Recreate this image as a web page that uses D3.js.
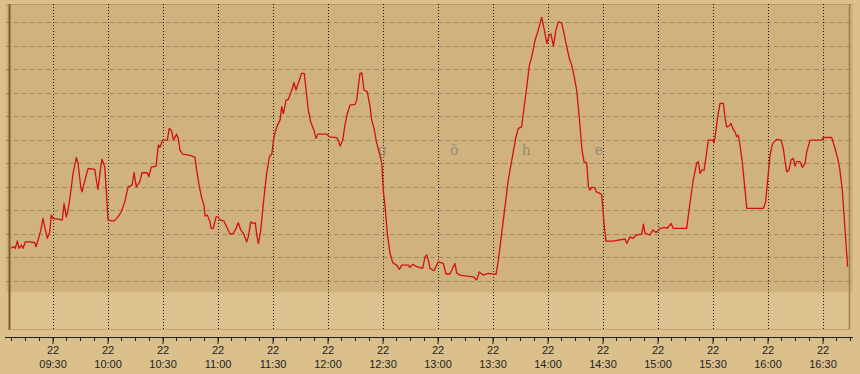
<!DOCTYPE html>
<html lang="en">
<head>
<meta charset="utf-8">
<script src="https://d3js.org/d3.v7.min.js"></script>
<style>
  *{margin:0;padding:0}
  body{width:860px;height:374px;background:#dbc08b;overflow:hidden}
  svg{display:block}
  .tick text{font-family:"Liberation Sans",Arial,sans-serif;font-size:11px;fill:#222}
</style>
</head>
<body>
<script>
// minutes after 09:00 on the 22nd, and the plotted value
const minutes=[7.4,9.0,9.7,10.8,11.7,13.0,13.9,15.2,17.6,20.3,21.0,22.1,23.6,24.8,26.1,27.2,28.5,29.3,30.3,33.0,35.3,36.3,37.5,38.5,39.7,41.2,43.0,43.9,45.4,46.1,48.4,49.4,53.0,53.9,54.8,56.3,57.0,58.5,59.3,60.3,63.5,65.7,67.5,69.4,71.2,73.4,74.5,75.7,77.6,78.8,81.7,82.5,83.9,
  84.7,86.5,87.7,88.6,90.1,92.6,93.7,95.0,95.9,97.7,98.6,99.5,101.0,105.0,107.7,108.6,110.1,111.4,112.6,113.2,114.4,115.9,116.5,117.7,119.2,120.4,121.4,123.5,125.0,126.8,128.6,130.1,131.3,132.7,134.1,135.9,136.8,138.1,139.5,140.6,141.4,142.3,143.6,145.0,146.8,148.3,149.6,150.8,152.3,154.1,155.0,155.9,157.4,158.6,160.5,
  161.7,162.8,164.1,165.9,167.3,168.3,169.5,170.8,172.6,173.7,174.7,179.6,181.0,185.0,185.9,186.8,188.3,189.5,190.8,192.3,195.0,195.9,197.7,198.7,199.9,201.7,203.2,204.1,205.4,206.5,207.4,208.6,209.6,210.4,211.4,212.6,214.1,215.6,217.7,219.2,220.5,224.1,225.0,226.5,228.7,231.9,233.2,234.1,235.0,235.9,238.1,
  240.4,243.2,244.6,246.8,248.6,249.5,250.5,252.3,255.9,259.5,261.4,262.8,265.0,267.7,271.9,273.2,275.0,276.8,278.6,281.0,282.8,284.1,285.9,286.8,288.7,290.1,291.4,293.2,295.0,296.8,298.3,299.6,301.0,301.9,303.2,304.6,305.9,307.7,309.0,310.5,311.9,313.2,314.5,
  315.9,317.3,318.7,319.9,321.4,322.3,323.2,324.1,325.9,326.5,328.6,329.6,330.1,331.0,331.9,335.9,338.6,342.3,343.2,345.0,346.8,348.3,351.4,352.3,353.2,355.9,357.4,359.2,361.4,364.1,365.3,367.4,368.6,375.9,377.7,379.5,381.4,382.3,383.2,384.1,385.4,386.5,387.7,390.1,390.8,
  391.4,392.8,394.1,395.9,396.8,397.7,399.0,400.1,401.3,402.3,403.2,404.1,405.0,406.3,407.3,408.7,417.7,419.0,420.1,421.4,422.8,425.0,427.4,428.6,429.5,430.5,431.7,432.8,434.1,435.0,435.9,437.7,439.0,440.5,441.4,443.2,449.6,450.4,455.0,456.8,458.3,459.5,460.8,462.3,463.7];
const values=[23.8,24.4,23.7,26.9,23.7,25.1,23.7,26.5,26.5,26.1,24.4,27.2,31.5,36.5,31.5,28.0,30.8,37.9,36.5,36.2,35.7,42.9,37.1,40.0,46.4,55.6,62.4,59.9,49.9,47.8,54.9,57.7,57.3,52.8,48.8,58.4,61.6,58.4,48.5,35.7,35.3,37.1,39.3,43.5,49.9,50.6,55.9,49.9,52.0,55.9,55.9,54.2,58.4,
  58.4,58.7,67.7,66.7,69.8,69.8,74.8,73.7,69.8,72.3,70.5,65.5,63.8,63.3,62.4,57.0,49.9,45.0,42.1,37.4,37.9,35.0,32.2,32.2,37.1,37.1,35.7,35.4,32.9,29.8,30.1,32.2,34.6,31.5,30.1,26.5,28.6,35.0,34.3,34.6,29.4,25.8,31.5,42.9,55.6,62.7,63.8,71.2,75.4,78.3,84.0,81.1,86.8,87.1,91.1,
  94.2,91.1,94.2,98.2,98.2,91.1,82.6,77.6,74.0,70.5,72.3,72.3,71.2,70.8,69.8,67.2,69.8,76.2,81.1,84.7,85.0,86.8,98.2,98.4,91.1,90.3,84.0,78.3,74.8,69.8,66.7,63.4,59.9,48.5,41.4,30.1,21.6,17.6,16.6,14.8,16.6,16.6,15.6,16.9,15.9,15.2,20.1,20.9,18.7,15.2,14.2,
  18.0,17.3,12.8,12.8,15.9,17.3,13.1,12.3,11.9,11.6,10.2,13.7,12.3,13.1,12.6,18.7,30.1,41.4,52.8,63.4,71.2,74.8,75.4,81.1,92.5,101.7,105.2,112.3,116.6,122.0,116.6,110.9,114.5,114.9,109.8,116.6,120.1,119.7,115.2,109.5,104.6,101.7,97.0,
  91.1,79.7,66.3,60.6,60.1,49.9,48.5,49.7,49.5,47.8,47.1,46.4,41.4,32.9,26.8,26.8,27.2,27.7,25.8,28.6,28.0,29.4,29.8,34.0,30.1,29.4,31.5,30.5,32.2,32.6,32.2,34.3,32.2,32.2,42.9,52.8,60.1,60.6,55.6,57.0,57.0,62.7,69.8,69.8,68.6,
  71.2,79.7,85.4,85.4,79.7,75.4,75.7,76.9,74.3,73.3,71.2,71.9,67.7,59.9,52.0,40.7,40.7,43.5,52.8,63.4,68.4,70.1,69.8,66.3,61.3,56.3,57.0,61.3,62.0,58.7,60.6,60.6,58.2,59.9,64.8,69.8,69.8,70.9,70.9,66.3,62.0,57.0,48.5,31.5,15.9];

const gridValues=[10,20,30,40,50,60,70,80,90,100,110,120];
const tickTimes=['09:30','10:00','10:30','11:00','11:30','12:00','12:30','13:00','13:30','14:00','14:30','15:00','15:30','16:00','16:30'];
const watermark=[{t:'g',m:209.8},{t:'ö',m:249.1},{t:'h',m:288.4},{t:'e',m:328.0}];
const bandTop=5;

const day=(m)=>new Date(2000,0,22,9,0,0,m*60000);
const parseT=(s)=>{const p=s.split(':');return day((+p[0]-9)*60+(+p[1]));};
const data=minutes.map((m,i)=>({t:day(m),v:values[i]})).filter(d=>d.v!=null);

const W=860,H=374,L=10,R=850,T=4,B=329;
const svg=d3.select('body').append('svg').attr('width',W).attr('height',H);

const x=d3.scaleTime().domain([day(6.8),day(465)]).range([L,R]);
const y=d3.scaleLinear().domain([-10.6,127.7]).range([B,T]);

svg.append('rect').attr('width',W).attr('height',H).attr('fill','#dbc08b');
svg.append('rect').attr('x',6).attr('y',T).attr('width',847).attr('height',y(bandTop)-T).attr('fill','#cfb27e');
svg.append('rect').attr('x',L).attr('y',y(bandTop)).attr('width',R-L).attr('height',B-y(bandTop)).attr('fill','#dcc28e');
svg.append('line').attr('x1',6).attr('x2',853).attr('y1',T+0.5).attr('y2',T+0.5).attr('stroke','#b89a62');

svg.append('g').selectAll('line').data(gridValues).enter().append('line')
   .attr('x1',6).attr('x2',854)
   .attr('y1',d=>Math.round(y(d))+0.5).attr('y2',d=>Math.round(y(d))+0.5)
   .attr('stroke','#a08a63').attr('stroke-dasharray','5,3');

const majors=tickTimes.map(parseT);
svg.append('g').selectAll('line').data(majors).enter().append('line')
   .attr('x1',d=>Math.round(x(d))+0.5).attr('x2',d=>Math.round(x(d))+0.5)
   .attr('y1',T).attr('y2',B+1)
   .attr('stroke','#1a1a1a').attr('stroke-dasharray','1,2');

svg.append('line').attr('x1',9.5).attr('x2',9.5).attr('y1',T).attr('y2',B+1).attr('stroke','#7d5c25').attr('stroke-width',2);
svg.append('line').attr('x1',849.5).attr('x2',849.5).attr('y1',T).attr('y2',B+1).attr('stroke','#9c7e48').attr('stroke-width',1.5);
svg.append('line').attr('x1',L).attr('x2',R).attr('y1',B+0.5).attr('y2',B+0.5).attr('stroke','#c2a36d');

svg.append('g').selectAll('text').data(watermark).enter().append('text')
   .attr('x',d=>x(day(d.m))).attr('y',155).attr('text-anchor','middle')
   .attr('font-family','"DejaVu Serif",serif').attr('font-size',14)
   .attr('fill','#958c78').text(d=>d.t);

svg.append('path').datum(data)
   .attr('fill','none').attr('stroke','#d41010').attr('stroke-width',1.3)
   .attr('stroke-linejoin','round')
   .attr('d',d3.line().x(d=>x(d.t)).y(d=>y(d.v)));

// time axis
const axisY=337;
svg.append('line').attr('x1',5).attr('x2',853).attr('y1',axisY+0.5).attr('y2',axisY+0.5).attr('stroke','#222');
const minors=d3.range(7.5,466,7.5).map(day);
svg.append('g').selectAll('line').data(minors).enter().append('line')
   .attr('x1',d=>Math.round(x(d))+0.5).attr('x2',d=>Math.round(x(d))+0.5)
   .attr('y1',axisY).attr('y2',axisY+4).attr('stroke','#222');

const ax=svg.append('g').attr('transform',`translate(0,${axisY})`)
   .call(d3.axisBottom(x).tickValues(majors).tickSize(7).tickFormat(''));
ax.select('.domain').remove();
ax.selectAll('.tick line').attr('stroke','#222');
ax.selectAll('.tick text').remove();
const tk=ax.selectAll('.tick').append('text').attr('text-anchor','middle').attr('fill','#222');
tk.append('tspan').attr('x',0).attr('y',17).text(d=>d3.timeFormat('%d')(d));
tk.append('tspan').attr('x',0).attr('y',31).text(d=>d3.timeFormat('%H:%M')(d));
</script>
</body>
</html>
